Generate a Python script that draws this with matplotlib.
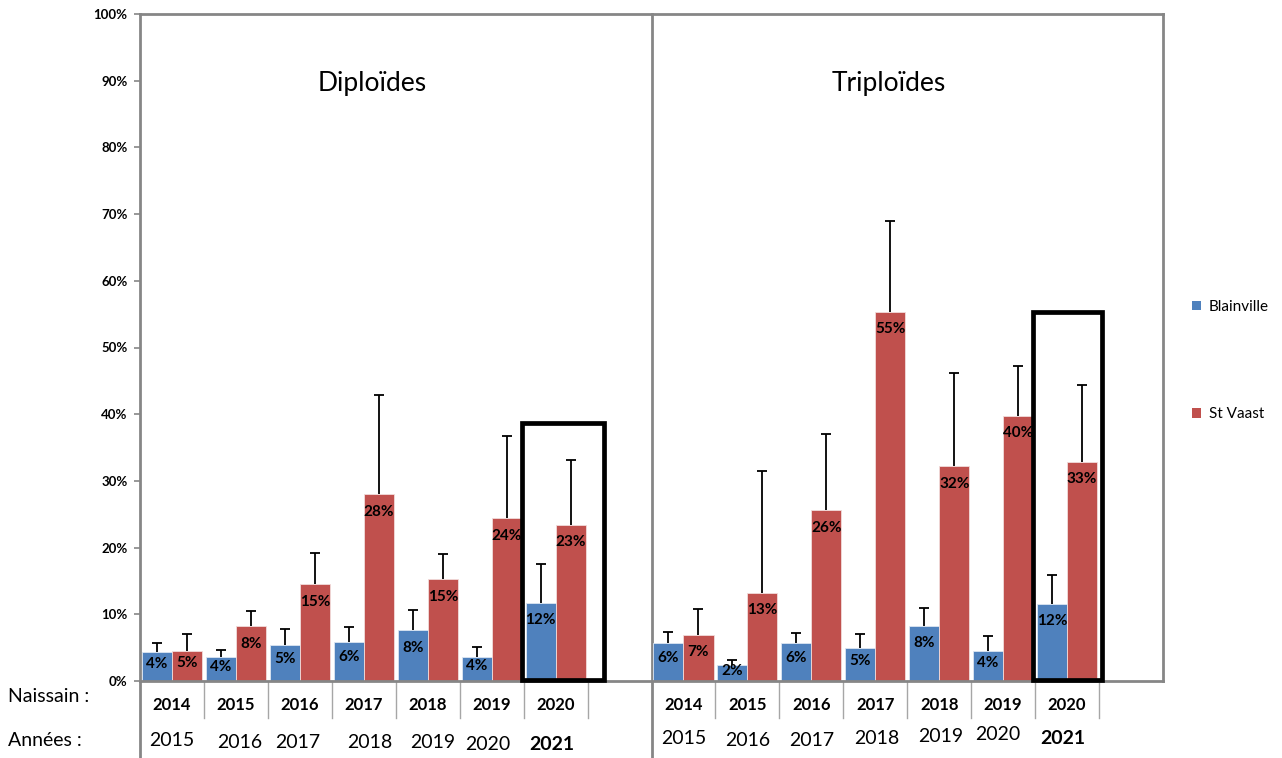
import matplotlib
matplotlib.use("Agg")
import matplotlib.pyplot as plt
from matplotlib.patches import Rectangle, Patch
import matplotlib.transforms as mtransforms

plt.rcParams['font.family'] = ['Lato', 'DejaVu Sans']

# ---------------- data ----------------
naissain = ["2014", "2015", "2016", "2017", "2018", "2019", "2020"]
annees = ["2015", "2016", "2017", "2018", "2019", "2020", "2021"]
groups = ["Diploïdes", "Triploïdes"]
series = ["Blainville", "St Vaast"]

dip_blainville = [4.3, 3.55, 5.45, 5.9, 7.6, 3.65, 11.7]
dip_blainville_top = [5.65, 4.6, 7.75, 8.15, 10.65, 5.15, 17.5]
dip_stvaast = [4.55, 8.2, 14.5, 28.0, 15.25, 24.4, 23.4]
dip_stvaast_top = [7.1, 10.45, 19.2, 42.9, 19.1, 36.7, 33.1]

tri_blainville = [5.65, 2.4, 5.7, 5.0, 8.25, 4.45, 11.6]
tri_blainville_top = [7.4, 3.1, 7.15, 7.0, 10.9, 6.75, 15.9]
tri_stvaast = [6.9, 13.2, 25.6, 55.3, 32.2, 39.8, 32.9]
tri_stvaast_top = [10.75, 31.5, 37.1, 69.0, 46.2, 47.3, 44.4]

yticks = [0, 10, 20, 30, 40, 50, 60, 70, 80, 90, 100]

# ---------------- style ----------------
BLUE = "#4F81BD"
RED = "#C0504D"
GRAY = "#868686"
LGRAY = "#A6A6A6"

W, H = 1282, 758
fig = plt.figure(figsize=(W / 100, H / 100), dpi=100)
ax = fig.add_axes([140 / W, (H - 681) / H, 1023 / W, 667 / H])
ax.set_xlim(-0.5, 15.5)
ax.set_ylim(0, 100)

bw = 0.47
dip_x = list(range(7))
tri_x = [8 + i for i in range(7)]

def draw(xs, vals, tops, color, dx):
    pos = [x + dx for x in xs]
    bars = ax.bar(pos, vals, width=bw, color=color,
                  edgecolor="#F2DCDB" if color == RED else "#DCE6F2",
                  linewidth=0.6, zorder=2)
    ax.vlines(pos, vals, tops, colors="black", linewidth=1.3, zorder=3)
    ax.scatter(pos, tops, marker="_", s=55, color="black", linewidths=1.3,
               zorder=3)
    for p, v in zip(pos, vals):
        ly = max(v - 2.6, v * 0.6)
        ax.text(p, ly, f"{int(v + 0.5)}%", ha="center", va="center",
                fontsize=11, fontweight="bold", color="black", zorder=4)
    return bars

draw(dip_x, dip_blainville, dip_blainville_top, BLUE, -0.235)
draw(dip_x, dip_stvaast, dip_stvaast_top, RED, 0.235)
draw(tri_x, tri_blainville, tri_blainville_top, BLUE, -0.235)
draw(tri_x, tri_stvaast, tri_stvaast_top, RED, 0.235)

# axes styling
for s in ["left", "top", "right", "bottom"]:
    ax.spines[s].set_color(GRAY)
    ax.spines[s].set_linewidth(2)
ax.set_xticks([])
ax.set_yticks(yticks)
ax.set_yticklabels([f"{t}%" for t in yticks], fontsize=9.5, fontweight="bold")
ax.tick_params(axis="y", direction="out", length=4, width=1.2, color=GRAY, pad=5)

# separator between groups
trans = mtransforms.blended_transform_factory(ax.transData, ax.transAxes)
bottom_ext = -(77 / 667)
ax.plot([7.5, 7.5], [bottom_ext, 1], transform=trans, color=GRAY, lw=2,
        clip_on=False, zorder=1)
ax.plot([-0.5, -0.5], [bottom_ext, 0], transform=trans, color=GRAY, lw=2,
        clip_on=False, zorder=1)
# category dividers below axis
for b in [0.5, 1.5, 2.5, 3.5, 4.5, 5.5, 6.5, 8.5, 9.5, 10.5, 11.5, 12.5, 13.5, 14.5]:
    ax.plot([b, b], [-(37 / 667), 0], transform=trans, color=LGRAY, lw=1,
            clip_on=False)

# group titles (text boxes in the original)
fig.text(372 / W, 1 - 84 / H, groups[0], ha="center", va="center", fontsize=19)
fig.text(889 / W, 1 - 84 / H, groups[1], ha="center", va="center", fontsize=19)

# naissain labels
for i, lab in enumerate(naissain):
    for x0 in (dip_x[i], tri_x[i]):
        ax.text(x0, -(24 / 667), lab, transform=trans, ha="center",
                va="center", fontsize=12, fontweight="bold")

# années labels (free text boxes in the original)
dip_ann_px = [(172, 740), (240, 743), (298, 742), (370, 743), (433, 743),
              (488, 744), (552, 745)]
tri_ann_px = [(684, 738), (748, 740), (812, 741), (877, 739), (941, 736),
              (998, 734), (1063, 738)]
for i, lab in enumerate(annees):
    bold = "bold" if i == len(annees) - 1 else "normal"
    for (px, py) in (dip_ann_px[i], tri_ann_px[i]):
        fig.text(px / W, 1 - py / H, lab, ha="center", va="center",
                 fontsize=14, fontweight=bold)

fig.text(8 / W, 1 - 697 / H, "Naissain :", ha="left", va="center", fontsize=14)
fig.text(8 / W, 1 - 741 / H, "Années :", ha="left", va="center", fontsize=14)

# highlight boxes
ax.add_patch(Rectangle((5.47, 0.1), 6.76 - 5.47, 38.75 - 0.1, fill=False,
                       edgecolor="black", lw=3.4, clip_on=False, zorder=5))
ax.add_patch(Rectangle((13.46, 0.1), 14.55 - 13.46, 55.25 - 0.1, fill=False,
                       edgecolor="black", lw=3.4, clip_on=False, zorder=5))

# legend
handles = [Patch(facecolor=BLUE), Patch(facecolor=RED)]
fig.legend(handles, series, loc="upper left",
           bbox_to_anchor=(1192 / W, 1 - 300 / H), frameon=False,
           fontsize=11, handlelength=0.6, handleheight=0.6,
           handletextpad=0.5, labelspacing=6.1, borderpad=0, borderaxespad=0)

fig.savefig("out.png", dpi=100)
